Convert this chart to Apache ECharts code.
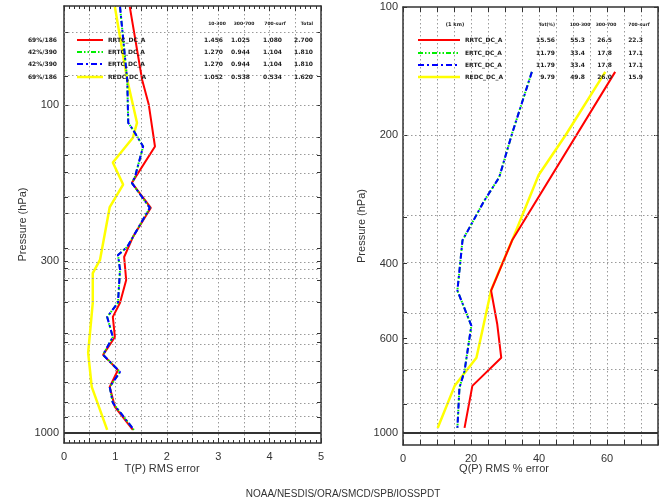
<!DOCTYPE html>
<html><head><meta charset="utf-8">
<script src="https://cdn.jsdelivr.net/npm/echarts@6/dist/echarts.min.js"></script>
<style>html,body{margin:0;padding:0;background:#fff}#c{width:663px;height:504px}</style>
</head><body><div id="c"></div>
<script>
// ---------- data ----------
// Left panel: temperature RMS error (K) vs pressure (hPa)
const tRedP   = [50.3, 83.9, 100, 134, 173, 206, 253, 291, 342, 401, 443, 510, 578, 643, 724, 833, 979];
const tRedV   = [1.28, 1.52, 1.65, 1.77, 1.32, 1.69, 1.34, 1.17, 1.21, 1.09, 0.95, 0.99, 0.76, 1.05, 0.89, 0.99, 1.34];
const tBlueP  = [50.3, 83.9, 113.5, 119, 134, 166, 173, 206, 271, 287, 318, 401, 443, 510, 578, 652, 724, 810, 979];
const tBlueV  = [1.09, 1.23, 1.25, 1.34, 1.54, 1.38, 1.32, 1.67, 1.23, 1.05, 1.09, 1.05, 0.84, 0.95, 0.76, 1.09, 0.89, 0.95, 1.36];
const tYelP   = [50.3, 83.9, 113.5, 126, 150, 175, 205, 297, 326, 401, 570, 724, 979];
const tYelV   = [0.99, 1.23, 1.42, 1.34, 0.95, 1.15, 0.89, 0.70, 0.56, 0.56, 0.47, 0.54, 0.84];
// Right panel: moisture RMS % error vs pressure
const qRedP   = [142, 353, 463, 554, 666, 775, 973];
const qRedV   = [62.4, 32.1, 25.9, 27.7, 28.9, 20.4, 18.1];
const qBlueP  = [142, 198, 251, 285, 353, 416, 463, 560, 715, 783, 973];
const qBlueV  = [37.9, 32.1, 28.3, 23.9, 17.5, 16.6, 16.0, 20.1, 18.1, 16.6, 16.0];
const qYelP   = [142, 200, 248, 353, 416, 463, 666, 775, 973];
const qYelV   = [59.5, 47.8, 39.9, 32.1, 28.3, 25.9, 21.6, 15.2, 10.2];

const tGridP  = [60, 82, 100, 126, 142, 161, 191, 214, 273, 300, 314, 342, 401, 496, 531, 604, 700, 804, 894];
const tLabelP = [100, 300, 1000];
const qGridP  = [200, 312, 400, 522, 617, 711, 855];
const qLabelP = [100, 200, 400, 600, 1000];

const tLegendLeft = ['69%/186', '42%/390', '42%/390', '69%/186'];
const seriesNames = ['RRTC_DC_A', 'ERTC_DC_A', 'ERTC_DC_A', 'REDC_DC_A'];
const tHeaders = ['10-300', '300-700', '700-surf', 'Total'];
const tTable = [['1.456','1.025','1.080','2.700'],['1.270','0.944','1.104','1.810'],['1.270','0.944','1.104','1.810'],['1.052','0.538','0.534','1.620']];
const qTopLabel = '(1 km)';
const qHeaders = ['Tot(%)', '100-300', '300-700', '700-surf'];
const qTable = [['15.56','55.3','26.5','22.3'],['11.79','33.4','17.8','17.1'],['11.79','33.4','17.8','17.1'],['9.79','49.8','26.0','15.9']];
const footer = 'NOAA/NESDIS/ORA/SMCD/SPB/IOSSPDT';

// ---------- helpers ----------
const L = Math.log10;
const pts = (P, V) => P.map((p, i) => [V[i], L(p)]);
const colors = ['#ff0000', '#00ee00', '#0000ff', '#ffff00'];
const lineStyles = [
  {color: colors[0], width: 2},
  {color: colors[1], width: 2, type: [5, 2, 1.5, 2, 1.5, 2]},
  {color: colors[2], width: 2, type: [6, 3, 2, 3]},
  {color: colors[3], width: 2.5}
];
const AX = '#333';
const gridLine = {lineStyle: {color: '#9a9a9a', type: [1.5, 2.5], width: 1}};
const lblFont = {color: '#333', fontSize: 11, fontFamily: 'Liberation Sans, Arial, sans-serif'};

function xAx(gi, max, interval, minorSplit, labelEvery, pos, showLab) {
  return {
    type: 'value', gridIndex: gi, min: 0, max: max, interval: interval, position: pos,
    axisLine: {show: true, onZero: false, lineStyle: {color: AX, width: 1.5}},
    axisTick: {show: true, inside: true, length: 5, lineStyle: {color: AX}},
    minorTick: {show: minorSplit > 1, splitNumber: minorSplit, length: 3, lineStyle: {color: AX}},
    axisLabel: {show: showLab, margin: 8, ...lblFont,
      formatter: v => (Math.abs(v / labelEvery - Math.round(v / labelEvery)) < 1e-6 ? String(Math.round(v)) : '')},
    splitLine: {show: showLab, ...gridLine}
  };
}
function yAx(gi, minP, maxP, tickP, labP, pos, showLab) {
  return {
    type: 'value', gridIndex: gi, min: L(minP), max: L(maxP), inverse: true, position: pos,
    axisLine: {show: true, onZero: false, lineStyle: {color: AX, width: 1.5}},
    axisTick: {show: true, inside: true, length: 4, customValues: tickP.concat(labP).map(L), lineStyle: {color: AX}},
    axisLabel: {show: showLab, margin: 5, ...lblFont, customValues: labP.map(L), formatter: v => String(Math.round(Math.pow(10, v)))},
    splitLine: {show: false},
    name: showLab ? 'Pressure (hPa)' : '', nameLocation: 'middle', nameGap: 36, nameRotate: 90,
    nameTextStyle: {...lblFont, fontSize: 11}
  };
}
function dataSeries(name, xi, yi, data, k) {
  return {type: 'line', name: name, xAxisIndex: xi, yAxisIndex: yi, data: data, symbol: 'none',
    lineStyle: lineStyles[k], z: k === 2 ? 5 : (k === 1 ? 4 : 3), animation: false, silent: true};
}
function gridSeries(xi, yi, levels) {
  return {type: 'line', xAxisIndex: xi, yAxisIndex: yi, data: [], silent: true, animation: false,
    markLine: {symbol: 'none', silent: true, animation: false, label: {show: false},
      data: levels.map(p => ({yAxis: L(p), lineStyle: {color: '#9a9a9a', type: [1.5, 2.5], width: 1}}))
        .concat([{yAxis: L(1000), lineStyle: {color: '#333', type: 'solid', width: 2}}])}};
}

// ---------- graphics (legend tables) ----------
const g = [];
const small = (x, y, t, align, size) => g.push({type: 'text', x: x, y: y, style: {text: t, fill: '#222', font: 'bold ' + (size || 6) + 'px DejaVu Sans, sans-serif', textAlign: align || 'left', textVerticalAlign: 'middle'}, z: 100});
const rowsL = [40, 52, 64, 77];
const rowsR = [40, 53, 65, 77];
tLegendLeft.forEach((t, i) => small(57, rowsL[i], t, 'right'));
seriesNames.forEach((t, i) => {
  g.push({type: 'line', shape: {x1: 77, y1: rowsL[i], x2: 103, y2: rowsL[i]}, style: {stroke: colors[i], lineWidth: lineStyles[i].width, lineDash: Array.isArray(lineStyles[i].type) ? lineStyles[i].type : null}, z: 100});
  small(108, rowsL[i], t, 'left');
  g.push({type: 'line', shape: {x1: 418, y1: rowsR[i], x2: 460, y2: rowsR[i]}, style: {stroke: colors[i], lineWidth: lineStyles[i].width, lineDash: Array.isArray(lineStyles[i].type) ? lineStyles[i].type : null}, z: 100});
  small(465, rowsR[i], t, 'left');
});
const tHeadX = [217, 244, 275, 307];
const tCols = [223, 250, 282, 313];
tHeaders.forEach((t, j) => small(tHeadX[j], 24, t, 'center', 4.5));
tTable.forEach((r, i) => r.forEach((t, j) => small(tCols[j], rowsL[i], t, 'right')));
small(455, 25, qTopLabel, 'center', 5);
const qHeadX = [547, 580, 606, 639];
const qCols = [555, 585, 612, 643];
qHeaders.forEach((t, j) => small(qHeadX[j], 25, t, 'center', 4.5));
qTable.forEach((r, i) => r.forEach((t, j) => small(qCols[j], rowsR[i], t, 'right')));
g.push({type: 'text', x: 343, y: 494, style: {text: footer, fill: '#333', font: '10px Liberation Sans, Arial, sans-serif', textAlign: 'center', textVerticalAlign: 'middle'}});
g.push({type: 'text', x: 162, y: 469, style: {text: 'T(P) RMS error', fill: '#333', font: '11px Liberation Sans, Arial, sans-serif', textAlign: 'center', textVerticalAlign: 'middle'}});
g.push({type: 'text', x: 504, y: 469, style: {text: 'Q(P) RMS % error', fill: '#333', font: '11px Liberation Sans, Arial, sans-serif', textAlign: 'center', textVerticalAlign: 'middle'}});

// ---------- chart ----------
const chart = echarts.init(document.getElementById('c'), null, {renderer: 'canvas'});
chart.setOption({
  backgroundColor: '#fff',
  animation: false,
  grid: [
    {left: 64, top: 6, width: 257, height: 437},
    {left: 403, top: 7, width: 255, height: 438}
  ],
  xAxis: [
    xAx(0, 5, 0.5, 5, 1, 'bottom', true),
    xAx(0, 5, 0.5, 5, 1, 'top', false),
    xAx(1, 75, 5, 1, 20, 'bottom', true),
    xAx(1, 75, 5, 1, 20, 'top', false)
  ],
  yAxis: [
    yAx(0, 50, 1073, tGridP, tLabelP, 'left', true),
    yAx(0, 50, 1073, tGridP, tLabelP, 'right', false),
    yAx(1, 100, 1067, qGridP, qLabelP, 'left', true),
    yAx(1, 100, 1067, qGridP, qLabelP, 'right', false)
  ],
  series: [
    gridSeries(0, 0, tGridP),
    gridSeries(2, 2, qGridP),
    dataSeries(seriesNames[3], 0, 0, pts(tYelP, tYelV), 3),
    dataSeries(seriesNames[0], 0, 0, pts(tRedP, tRedV), 0),
    dataSeries(seriesNames[1], 0, 0, pts(tBlueP, tBlueV), 1),
    dataSeries(seriesNames[2], 0, 0, pts(tBlueP, tBlueV), 2),
    dataSeries(seriesNames[3], 2, 2, pts(qYelP, qYelV), 3),
    dataSeries(seriesNames[0], 2, 2, pts(qRedP, qRedV), 0),
    dataSeries(seriesNames[1], 2, 2, pts(qBlueP, qBlueV), 1),
    dataSeries(seriesNames[2], 2, 2, pts(qBlueP, qBlueV), 2)
  ],
  graphic: g
});
</script></body></html>
